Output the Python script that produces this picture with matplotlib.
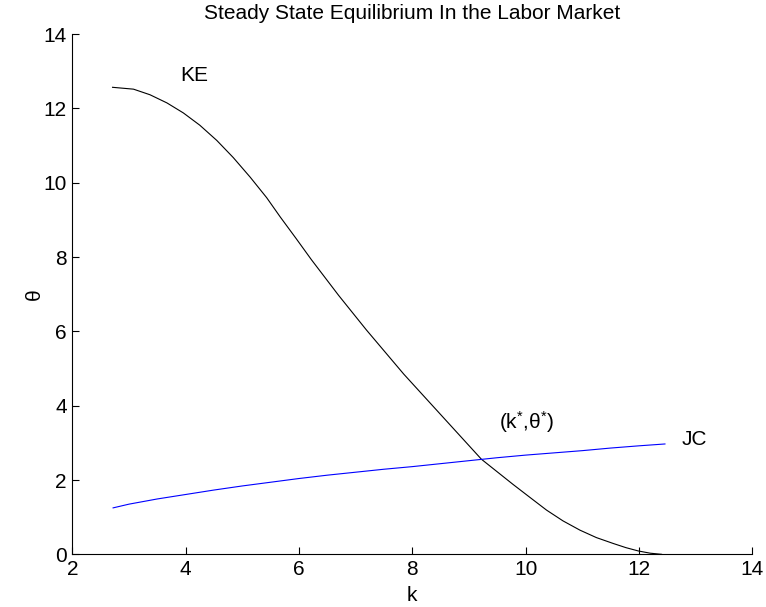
import matplotlib
matplotlib.use("Agg")
import matplotlib.pyplot as plt
from matplotlib import font_manager

# Key equilibrium (KE) curve: theta as a function of k
ke_k = [2.71, 3.08, 3.37, 3.67, 3.96, 4.25, 4.55, 4.84, 5.14, 5.43, 5.67,
        5.95, 6.22, 6.70, 7.19, 7.85, 8.49, 9.22, 9.78, 10.07, 10.37, 10.66,
        10.96, 11.25, 11.55, 11.77, 11.99, 12.20, 12.40]
ke_theta = [12.57, 12.52, 12.37, 12.15, 11.88, 11.55, 11.14, 10.68, 10.15,
            9.60, 9.08, 8.50, 7.93, 6.97, 6.04, 4.85, 3.78, 2.56, 1.88, 1.54,
            1.19, 0.90, 0.65, 0.45, 0.29, 0.18, 0.09, 0.03, 0.00]

# Job creation (JC) curve
jc_k = [2.72, 3.0, 3.5, 4.0, 4.5, 5.0, 5.5, 6.0, 6.5, 7.0, 7.5, 8.0, 8.5,
        9.0, 9.5, 10.0, 10.5, 11.0, 11.5, 12.0, 12.46]
jc_theta = [1.25, 1.35, 1.49, 1.61, 1.73, 1.84, 1.94, 2.04, 2.13, 2.21,
            2.29, 2.36, 2.44, 2.52, 2.60, 2.67, 2.73, 2.79, 2.86, 2.92, 2.97]

xticks = [2, 4, 6, 8, 10, 12, 14]
yticks = [0, 2, 4, 6, 8, 10, 12, 14]

installed = {f.name for f in font_manager.fontManager.ttflist}
family = "Liberation Sans Narrow" if "Liberation Sans Narrow" in installed else "Liberation Sans"
plt.rcParams["font.family"] = [family, "DejaVu Sans"]
plt.rcParams["mathtext.fontset"] = "custom"
plt.rcParams["mathtext.rm"] = family
plt.rcParams["mathtext.it"] = family

fig = plt.figure(figsize=(7.66, 6.07), dpi=100)
ax = fig.add_axes([0.0944, 0.0868, 0.982 - 0.0944, 0.9437 - 0.0868])

ax.plot(ke_k, ke_theta, color="black", lw=0.8)
ax.plot(jc_k, jc_theta, color="blue", lw=0.8)

ax.set_xlim(2, 14)
ax.set_ylim(0, 14)
ax.set_xticks(xticks)
ax.set_yticks(yticks)

fs = 15
ax.tick_params(direction="in", length=5, width=0.8, labelsize=fs, pad=4)
for side in ("top", "right"):
    ax.spines[side].set_visible(False)
for side in ("left", "bottom"):
    ax.spines[side].set_linewidth(0.8)

ax.set_title("Steady State Equilibrium In the Labor Market", fontsize=fs, pad=11)
ax.set_xlabel("k", fontsize=fs, labelpad=5)
ax.set_ylabel("θ", fontsize=fs, labelpad=0)

ax.text(3.9, 12.9, "KE", fontsize=fs, ha="left", va="center")
ax.text(12.75, 3.08, "JC", fontsize=fs, ha="left", va="center")
ax.text(9.53, 3.55, r"(k$^{*}$,θ$^{*}$)", fontsize=fs, ha="left", va="center")

fig.savefig("out.png", dpi=100)
